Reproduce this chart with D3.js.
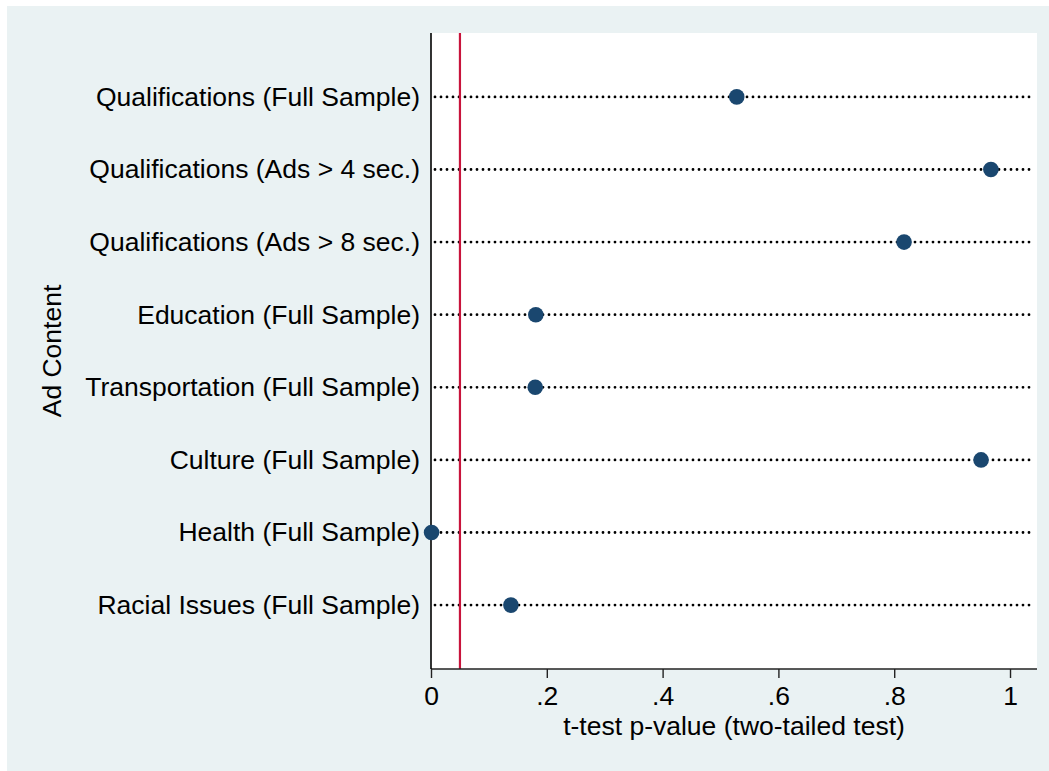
<!DOCTYPE html>
<html>
<head>
<meta charset="utf-8">
<script src="https://cdn.jsdelivr.net/npm/d3@7"></script>
<style>
  html, body { margin: 0; padding: 0; background: #ffffff; }
  svg { display: block; font-family: "Liberation Sans", Arial, Helvetica, sans-serif; }
</style>
</head>
<body>
<svg id="chart" width="1049" height="771"></svg>
<script>
// Categories, top to bottom
const categories = [
  "Qualifications (Full Sample)",
  "Qualifications (Ads > 4 sec.)",
  "Qualifications (Ads > 8 sec.)",
  "Education (Full Sample)",
  "Transportation (Full Sample)",
  "Culture (Full Sample)",
  "Health (Full Sample)",
  "Racial Issues (Full Sample)"
];
// t-test p-values (two-tailed)
const pValues = [0.528, 0.967, 0.817, 0.181, 0.180, 0.950, 0.001, 0.138];
// Significance threshold reference line
const threshold = [0.05];
// X-axis ticks and labels
const xTicks = [0, 0.2, 0.4, 0.6, 0.8, 1];
const xTickLabels = ["0", ".2", ".4", ".6", ".8", "1"];

const FONT = "26.5px";

const svg = d3.select("#chart");
const W = 1049, H = 771;

// Graph region background
svg.append("rect")
  .attr("x", 7).attr("y", 6)
  .attr("width", W - 7).attr("height", H - 6)
  .attr("fill", "#EAF2F3");

// Plot region
const plot = { left: 431, right: 1037, top: 33, bottom: 669 };
svg.append("rect")
  .attr("x", plot.left).attr("y", plot.top)
  .attr("width", plot.right - plot.left).attr("height", plot.bottom - plot.top)
  .attr("fill", "#ffffff");

const x = d3.scaleLinear()
  .domain([0, 1.0466])
  .range([plot.left, plot.right]);

const y = d3.scalePoint()
  .domain(categories)
  .range([plot.top, plot.bottom])
  .padding(0.88);

const rows = categories.map((c, i) => ({ cat: c, p: pValues[i] }));

// Dotted guide lines
svg.append("g").selectAll("line")
  .data(rows).join("line")
  .attr("x1", plot.left + 4)
  .attr("x2", plot.right - 6)
  .attr("y1", d => y(d.cat))
  .attr("y2", d => y(d.cat))
  .attr("stroke", "#000")
  .attr("stroke-width", 2.8)
  .attr("stroke-linecap", "round")
  .attr("stroke-dasharray", "0,6");

// Threshold line
svg.append("g").selectAll("line")
  .data(threshold).join("line")
  .attr("x1", d => x(d)).attr("x2", d => x(d))
  .attr("y1", plot.top).attr("y2", plot.bottom)
  .attr("stroke", "#C8143C")
  .attr("stroke-width", 2.2);

// Axes
const xAxis = d3.axisBottom(x)
  .tickValues(xTicks)
  .tickFormat((d, i) => xTickLabels[i])
  .tickSize(9)
  .tickPadding(8);

const gx = svg.append("g")
  .attr("transform", `translate(0,${plot.bottom})`)
  .call(xAxis);
gx.select(".domain").remove();
gx.append("line")
  .attr("x1", plot.left).attr("x2", plot.right)
  .attr("y1", 0).attr("y2", 0)
  .attr("stroke", "#222").attr("stroke-width", 1.6);
gx.selectAll(".tick line").attr("stroke", "#222").attr("stroke-width", 1.4);
gx.selectAll(".tick text")
  .attr("fill", "#000")
  .style("font-size", FONT)
  .attr("font-family", "Liberation Sans, Arial, sans-serif");

const yAxis = d3.axisLeft(y).tickSize(0).tickPadding(11);
const gy = svg.append("g")
  .attr("transform", `translate(${plot.left},0)`)
  .call(yAxis);
gy.select(".domain").remove();
gy.append("line")
  .attr("x1", 0).attr("x2", 0)
  .attr("y1", plot.top).attr("y2", plot.bottom)
  .attr("stroke", "#000").attr("stroke-width", 1.6);
gy.selectAll(".tick text")
  .attr("fill", "#000")
  .style("font-size", FONT)
  .attr("font-family", "Liberation Sans, Arial, sans-serif");

// Markers
svg.append("g").selectAll("circle")
  .data(rows).join("circle")
  .attr("cx", d => x(d.p))
  .attr("cy", d => y(d.cat))
  .attr("r", 7.8)
  .attr("fill", "#1A476F");

// Axis titles
svg.append("text")
  .attr("x", (plot.left + plot.right) / 2)
  .attr("y", 735)
  .attr("text-anchor", "middle")
  .style("font-size", FONT)
  .attr("fill", "#000")
  .text("t-test p-value (two-tailed test)");

svg.append("text")
  .attr("transform", `translate(61,${(plot.top + plot.bottom) / 2}) rotate(-90)`)
  .attr("text-anchor", "middle")
  .style("font-size", FONT)
  .attr("fill", "#000")
  .text("Ad Content");
</script>
</body>
</html>
